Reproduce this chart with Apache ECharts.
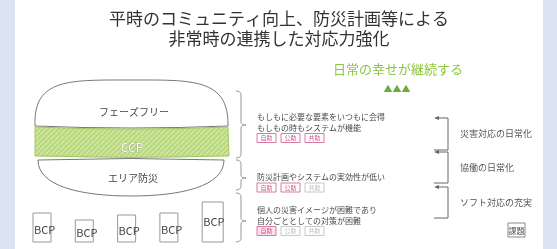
<!DOCTYPE html>
<html>
<head>
<meta charset="utf-8">
<script src="https://cdn.jsdelivr.net/npm/echarts@6/dist/echarts.min.js"></script>
<style>
  html, body { margin: 0; padding: 0; background: #dbe4f3; }
  #main { width: 557px; height: 249px; }
</style>
</head>
<body>
<div id="main"></div>
<script>
  // 見出し
  var titleLines = ['平時のコミュニティ向上、防災計画等による', '非常時の連携した対応力強化'];
  var goalText = '日常の幸せが継続する';
  // ハンバーガーの層
  var layerLabels = ['フェーズフリー', 'CCP', 'エリア防災'];
  // BCPの箱の高さ
  var bcpLabel = 'BCP';
  var bcpHeights = [29, 22, 27, 29, 40];
  // 中央の説明
  var descLines = [
    ['もしもに必要な要素をいつもに会得', 'もしもの時もシステムが機能'],
    ['防災計画やシステムの実効性が低い'],
    ['個人の災害イメージが困難であり', '自分ごととしての対策が困難']
  ];
  var tagNames = ['自助', '公助', '共助'];
  var tagActive = [[1, 1, 1], [1, 1, 0], [1, 0, 0]];
  // 右側
  var stepLabels = ['災害対応の日常化', '協働の日常化', 'ソフト対応の充実'];
  var taskLabel = '課題';

  var myChart = echarts.init(document.getElementById('main'));
  var FONT = '"Noto Sans CJK JP", "Noto Sans", sans-serif';
  var els = [];
  var shapeNo = 0;

  /*斜線のパターン*/
  var pc = document.createElement('canvas');
  pc.width = 5; pc.height = 5;
  var ctx = pc.getContext('2d');
  ctx.fillStyle = '#bad87c';
  ctx.fillRect(0, 0, 5, 5);
  ctx.strokeStyle = '#d9ebb5';
  ctx.lineWidth = 1.2;
  ctx.beginPath();
  ctx.moveTo(-1, 6); ctx.lineTo(6, -1);
  ctx.stroke();

  function txt(x, y, s, size, color, align, extra) {
    var st = { text: s, font: size + 'px ' + FONT, fill: color, align: align || 'left', verticalAlign: 'middle' };
    if (extra) { for (var k in extra) st[k] = extra[k]; }
    els.push({ type: 'text', x: x, y: y, style: st });
  }
  // pathData から形を登録して使う
  function pathEl(d, style) {
    var name = 'shp' + (shapeNo++);
    echarts.graphic.registerShape(name, echarts.graphic.extendPath(d, {}));
    els.push({ type: name, style: style });
  }

  // 白い背景
  els.push({ type: 'rect', shape: { x: 15, y: 0, width: 528, height: 249 }, style: { fill: '#fff' } });

  // 見出し
  titleLines.forEach(function (s, i) {
    txt(279, 19 + i * 20, s, 17, '#333', 'center');
  });
  txt(333, 69, goalText, 13, '#8dc63f');
  txt(397, 89, '▲▲▲', 9, '#6cac3c', 'center');

  // ハンバーガー
  pathEl('M35 126 C33 78 70 80 131 80 C192 80 229 78 228 126 Q131 130 35 126 Z',
    { fill: '#fff', stroke: '#777', lineWidth: 1 });
  pathEl('M35 127 Q131 131 228 127 L229 156 Q131 159 35 156 Z',
    { fill: { image: pc, repeat: 'repeat' }, stroke: '#a3c765', lineWidth: 1 });
  pathEl('M38 160 Q131 157 224 160 C224 186 182 196 131 196 C80 196 38 186 38 160 Z',
    { fill: '#fff', stroke: '#777', lineWidth: 1 });
  txt(134, 112, layerLabels[0], 10, '#444', 'center');
  txt(132, 147, layerLabels[1], 12, '#fff', 'center', { stroke: '#8c9a7a', lineWidth: 0.7 });
  txt(133, 178, layerLabels[2], 10, '#444', 'center');

  // BCP
  bcpHeights.forEach(function (h, i) {
    var x = 33 + i * 42.3;
    var w = i === 4 ? 21 : 18;
    els.push({ type: 'rect', shape: { x: x, y: 242 - h, width: w, height: h }, style: { fill: '#fff', stroke: '#999', lineWidth: 1 } });
    txt(x + 1, 242 - h + Math.min(h * 0.58, 20), bcpLabel, 11, '#444');
  });

  // 中括弧
  var braces = [[91, 125, 158], [160, 178, 190], [193, 221, 242]];
  braces.forEach(function (b) {
    var x0 = 236, x1 = 241, x2 = 246;
    pathEl('M' + x0 + ' ' + b[0] + ' Q' + x1 + ' ' + b[0] + ' ' + x1 + ' ' + (b[0] + 4) +
        ' L' + x1 + ' ' + (b[1] - 3) + ' Q' + x1 + ' ' + b[1] + ' ' + x2 + ' ' + b[1] +
        ' Q' + x1 + ' ' + b[1] + ' ' + x1 + ' ' + (b[1] + 3) +
        ' L' + x1 + ' ' + (b[2] - 4) + ' Q' + x1 + ' ' + b[2] + ' ' + x0 + ' ' + b[2],
      { fill: null, stroke: '#999', lineWidth: 1 });
  });

  // 説明とタグ
  var descTop = [117, 177, 210];
  descLines.forEach(function (lines, i) {
    lines.forEach(function (s, j) {
      txt(257, descTop[i] + j * 10.5, s, 8, '#4a4a4a');
    });
    var ty = descTop[i] + lines.length * 10.5;
    tagNames.forEach(function (t, k) {
      var on = tagActive[i][k];
      var x = 257 + k * 24;
      els.push({
        type: 'rect', shape: { x: x, y: ty - 4.5, width: 19, height: 9 },
        style: { fill: on ? (i === 2 ? '#fbe3ee' : '#fff') : '#fff', stroke: on ? '#d97aa3' : '#c8c8c8', lineWidth: 1 }
      });
      txt(x + 9.5, ty, t, 6, on ? '#d0588c' : '#c0c0c0', 'center');
    });
  });

  // 右側の矢印
  var brackets = [[118, 150], [152, 183], [187, 218]];
  brackets.forEach(function (b, i) {
    els.push({ type: 'polyline', shape: { points: [[436, b[0]], [448, b[0]], [448, b[1]], [434, b[1]]] }, style: { fill: null, stroke: '#666', lineWidth: 1 } });
    els.push({ type: 'polygon', shape: { points: [[434, b[0]], [439, b[0] - 2], [439, b[0] + 2]] }, style: { fill: '#666' } });
    txt(460, (b[0] + b[1]) / 2, stepLabels[i], 9, '#555');
  });
  els.push({ type: 'rect', shape: { x: 508, y: 223, width: 17, height: 14 }, style: { fill: '#fff', stroke: '#888', lineWidth: 1 } });
  txt(516.5, 230.5, taskLabel, 8, '#555', 'center');

  var option = {
    backgroundColor: '#dbe4f3',
    animation: false,
    graphic: { elements: els }
  };
  myChart.setOption(option);
</script>
</body>
</html>
